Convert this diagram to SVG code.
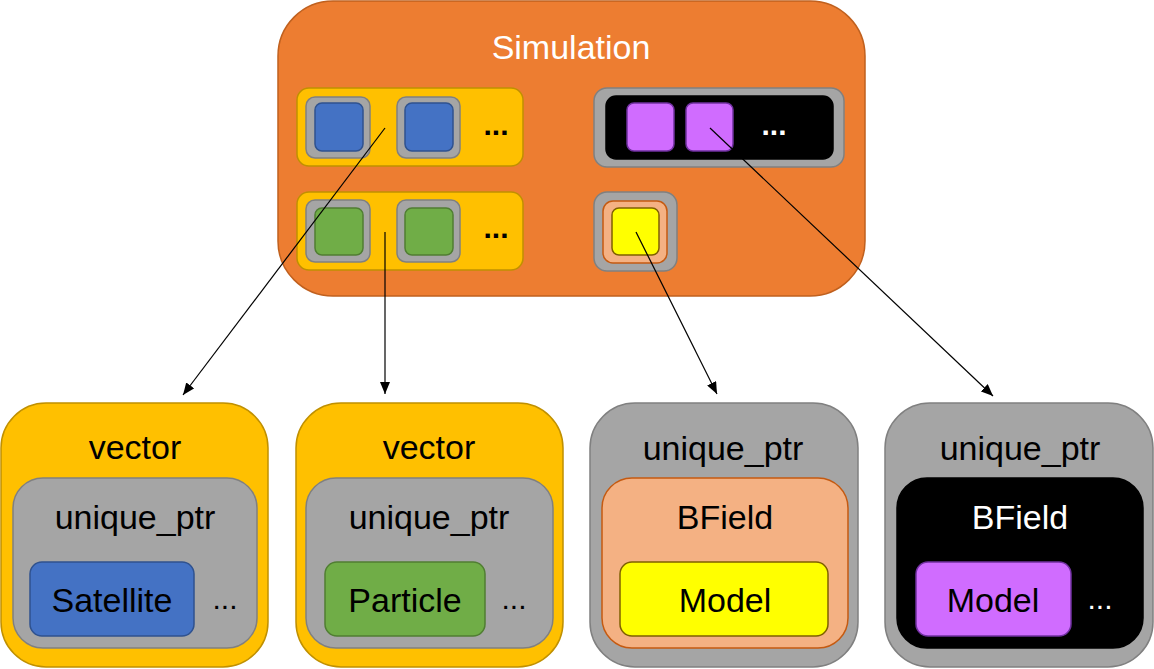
<svg xmlns="http://www.w3.org/2000/svg" width="1154" height="669" viewBox="0 0 1154 669">
<style>
text{font-family:"Liberation Sans",Arial,sans-serif;font-size:34px;text-anchor:middle;fill:#000}
.w{fill:#fff}
.dots{font-size:30px;font-weight:bold}
.ell{font-size:30px}
.sim{fill:#ED7D31;stroke:#C0601E;stroke-width:1.5}
.yel{fill:#FFC000;stroke:#C09000;stroke-width:1.5}
.gry{fill:#A5A5A5;stroke:#808080;stroke-width:1.5}
.blu{fill:#4472C4;stroke:#2F528F;stroke-width:1.5}
.grn{fill:#70AD47;stroke:#507E32;stroke-width:1.5}
.pur{fill:#D06CFF;stroke:#7030A0;stroke-width:1.5}
.pch{fill:#F4B183;stroke:#C55A11;stroke-width:1.5}
.ylw{fill:#FFFF00;stroke:#7F6000;stroke-width:1.5}
.blk{fill:#000;stroke:#000;stroke-width:1.5}
.con{stroke:#000;stroke-width:1.2;fill:none;marker-end:url(#ah)}
</style>
<defs>
<marker id="ah" viewBox="0 0 12 10" refX="12" refY="5" markerWidth="12" markerHeight="10" markerUnits="userSpaceOnUse" orient="auto">
<path d="M0,0 L12,5 L0,10 z" fill="#000"/>
</marker>
</defs>
<rect width="1154" height="669" fill="#fff"/>

<g id="simulation">
<rect class="sim" x="278" y="1" width="587" height="295" rx="55"/>
<text class="w" x="571" y="59">Simulation</text>
<rect class="yel" x="297" y="88" width="226" height="78" rx="12"/>
<rect class="gry" x="306" y="97" width="64" height="61" rx="9"/>
<rect class="blu" x="315" y="103" width="48" height="48" rx="7"/>
<rect class="gry" x="397" y="97" width="63" height="61" rx="9"/>
<rect class="blu" x="405" y="103" width="48" height="48" rx="7"/>
<text class="dots" x="496" y="135">...</text>
<rect class="yel" x="297" y="192" width="226" height="78" rx="12"/>
<rect class="gry" x="306" y="200" width="64" height="62" rx="9"/>
<rect class="grn" x="315" y="208" width="48" height="47" rx="7"/>
<rect class="gry" x="397" y="200" width="63" height="62" rx="9"/>
<rect class="grn" x="405" y="208" width="48" height="47" rx="7"/>
<text class="dots" x="496" y="238">...</text>
<rect class="gry" x="594" y="88" width="250" height="79" rx="13"/>
<rect class="blk" x="606" y="96" width="227" height="63" rx="10"/>
<rect class="pur" x="627" y="103" width="47" height="48" rx="7"/>
<rect class="pur" x="686" y="103" width="47" height="48" rx="7"/>
<text class="dots w" x="774" y="135">...</text>
<rect class="gry" x="594" y="192" width="83" height="79" rx="13"/>
<rect class="pch" x="603" y="201" width="64" height="62" rx="10"/>
<rect class="ylw" x="612" y="208" width="47" height="47" rx="7"/>
</g>

<g id="vector-satellite">
<rect class="yel" x="1" y="403" width="267" height="264" rx="45"/>
<text x="135" y="459">vector</text>
<rect class="gry" x="13" y="478" width="244" height="170" rx="30"/>
<text x="135" y="529">unique_ptr</text>
<rect class="blu" x="30" y="562" width="164" height="74" rx="12"/>
<text x="112" y="612">Satellite</text>
<text class="ell" x="225" y="609">...</text>
</g>

<g id="vector-particle">
<rect class="yel" x="296" y="403" width="267" height="264" rx="45"/>
<text x="429" y="459">vector</text>
<rect class="gry" x="306" y="478" width="247" height="170" rx="30"/>
<text x="429" y="529">unique_ptr</text>
<rect class="grn" x="325" y="562" width="160" height="74" rx="12"/>
<text x="405" y="612">Particle</text>
<text class="ell" x="514" y="609">...</text>
</g>

<g id="uptr-bfield">
<rect class="gry" x="590" y="403" width="268" height="264" rx="45"/>
<text x="723" y="460">unique_ptr</text>
<rect class="pch" x="602" y="478" width="246" height="170" rx="30"/>
<text x="725" y="529">BField</text>
<rect class="ylw" x="620" y="562" width="208" height="74" rx="12"/>
<text x="725" y="612">Model</text>
</g>

<g id="uptr-bfield-models">
<rect class="gry" x="885" y="403" width="268" height="264" rx="45"/>
<text x="1020" y="460">unique_ptr</text>
<rect class="blk" x="897" y="478" width="246" height="170" rx="30"/>
<text class="w" x="1020" y="529">BField</text>
<rect class="pur" x="916" y="562" width="155" height="74" rx="12"/>
<text x="993" y="612">Model</text>
<text class="ell w" x="1100" y="609">...</text>
</g>

<g id="connectors">
<line class="con" x1="385" y1="128" x2="183" y2="395"/>
<line class="con" x1="385" y1="232" x2="385" y2="394"/>
<line class="con" x1="636" y1="232" x2="717" y2="394"/>
<line class="con" x1="710" y1="128" x2="993" y2="396"/>
</g>
</svg>
